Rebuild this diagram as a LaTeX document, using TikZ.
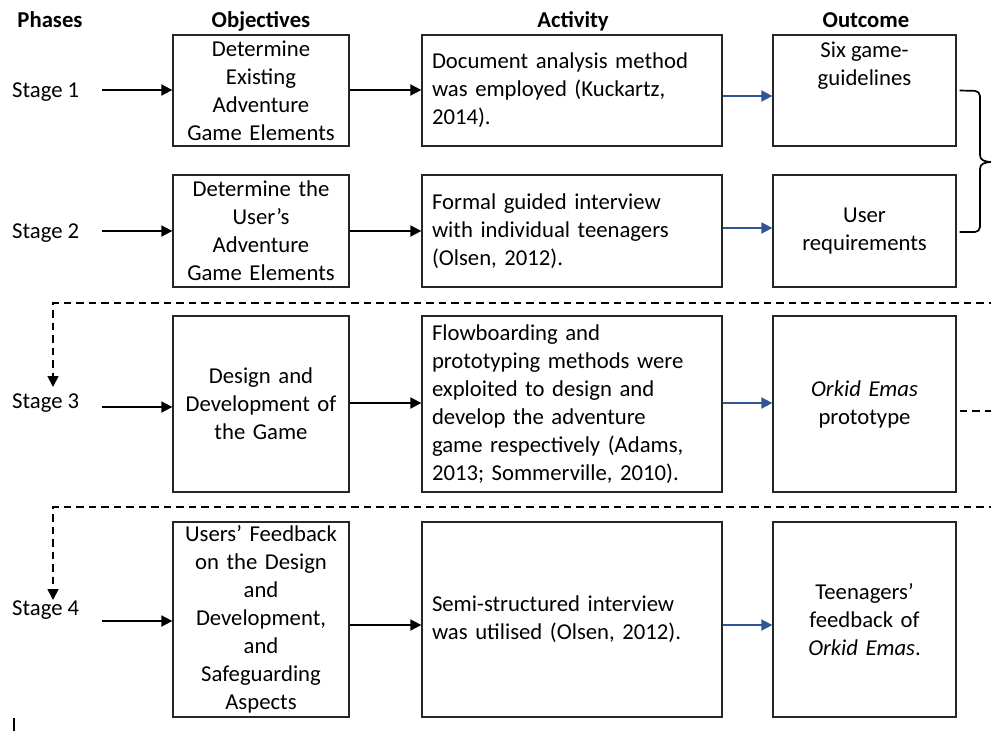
\documentclass[tikz,border=0pt]{standalone}
\usepackage{fontspec}
\setmainfont{Carlito}
\usetikzlibrary{arrows.meta,calc}
\newcommand\mysz{\fontsize{22.7}{28}\selectfont}
\definecolor{arrowblue}{HTML}{2F5597}
\begin{document}
\begin{tikzpicture}[x=1pt,y=-1pt,
  every node/.style={font=\mysz},
  hdr/.style={font=\mysz\bfseries,anchor=base,inner sep=0pt},
  stg/.style={anchor=base west,inner sep=0pt},
  box/.style={draw=black!85,line width=1.3pt,inner sep=0pt},
  objbox/.style={box,text width=174pt,minimum width=176pt,align=center},
  actbox/.style={box,text width=280pt,inner xsep=10pt,minimum width=300pt,align=left},
  outbox/.style={box,text width=179pt,minimum width=183pt,align=center},
  arr/.style={-{Triangle[length=11pt,width=11pt]},line width=1.8pt,black},
  barr/.style={-{Triangle[length=11pt,width=11pt]},line width=1.8pt,arrowblue},
  dsh/.style={line width=1.7pt,dash pattern=on 7.5pt off 5pt},
  darr/.style={dsh,-{Triangle[length=11pt,width=11pt]}}
]
\useasboundingbox[fill=white] (0,0) rectangle (991,731);

% headers
\node[hdr] (hp) at (50,27) {Phases};
\node[hdr] (ho) at (261,27) {Objectives};
\node[hdr] (ha) at (573,27) {Activity};
\node[hdr] (hu) at (866,27) {Outcome};

% stage labels
\node[stg] (s1) at (12,97) {Stage 1};
\node[stg] (s2) at (12,238) {Stage 2};
\node[stg] (s3) at (12,408) {Stage 3};
\node[stg] (s4) at (12,615) {Stage 4};

% objectives
\node[objbox,minimum height=111pt] (o1) at (261,90.5) {Determine\\Existing\\Adventure\\Game Elements};
\node[objbox,minimum height=112pt] (o2) at (261,231) {Determine the\\User’s\\Adventure\\Game Elements};
\node[objbox,minimum height=176pt] (o3) at (261,404) {Design and\\Development of\\the Game};
\node[objbox,minimum height=195pt] (o4) at (261,619.5) {Users’ Feedback\\on the Design\\and\\Development,\\and\\Safeguarding\\Aspects};

% activities
\node[actbox,minimum height=111pt] (c1) at (572,90.5) {Document analysis method\\was employed (Kuckartz,\\2014).};
\node[actbox,minimum height=112pt] (c2) at (572,231) {Formal guided interview\\with individual teenagers\\(Olsen, 2012).};
\node[actbox,minimum height=176pt] (c3) at (572,404) {Flowboarding and\\prototyping methods were\\exploited to design and\\develop the adventure\\game respectively (Adams,\\2013; Sommerville, 2010).};
\node[actbox,minimum height=195pt] (c4) at (572,619.5) {Semi-structured interview\\was utilised (Olsen, 2012).};

% outcomes
\node[box,minimum width=183pt,minimum height=111pt] (u1) at (864.5,90.5) {\parbox[c][97pt][t]{179pt}{\centering Six game-\\guidelines}};
\node[outbox,minimum height=112pt] (u2) at (864.5,231) {User\\requirements};
\node[outbox,minimum height=176pt] (u3) at (864.5,404) {\textit{Orkid Emas}\\prototype};
\node[outbox,minimum height=195pt] (u4) at (864.5,619.5) {Teenagers’\\feedback of\\\textit{Orkid Emas}.};

% stage arrows
\coordinate (a1) at (102,90);
\coordinate (a2) at (102,231);
\coordinate (a3) at (102,407);
\coordinate (a4) at (102,621);
\draw[arr] (a1) -- (a1 -| o1.west);
\draw[arr] (a2) -- (a2 -| o2.west);
\draw[arr] (a3) -- (a3 -| o3.west);
\draw[arr] (a4) -- (a4 -| o4.west);

% objective -> activity
\draw[arr] ([yshift=0.5pt]o1.east) -- ([yshift=0.5pt]c1.west);
\draw[arr] (o2.east) -- (c2.west);
\draw[arr] ([yshift=1pt]o3.east) -- ([yshift=1pt]c3.west);
\draw[arr] ([yshift=-5.5pt]o4.east) -- ([yshift=-5.5pt]c4.west);

% activity -> outcome
\draw[barr] ([yshift=-5.5pt]c1.east) -- ([yshift=-5.5pt]u1.west);
\draw[barr] ([yshift=3pt]c2.east) -- ([yshift=3pt]u2.west);
\draw[barr] ([yshift=1pt]c3.east) -- ([yshift=1pt]u3.west);
\draw[barr] ([yshift=-5.5pt]c4.east) -- ([yshift=-5.5pt]u4.west);

% brace
\draw[line width=1.7pt,rounded corners=5pt] ([xshift=3pt]u1.east) -- (980,91) -- (980,150)
  [sharp corners] -- (980,155) .. controls (980,160) and (984,162) .. (993,162)
  .. controls (984,162) and (980,164) .. (980,169)
  [rounded corners=5pt] -- (980,232) -- ([xshift=3pt,yshift=-1pt]u2.east);

% dashed feedback lines
\coordinate (d1) at (996,303);
\coordinate (e1) at (53,387);
\coordinate (d2) at (996,507);
\coordinate (e2) at (53,600);
\coordinate (d3) at (996,411);
\draw[darr] (d1) -| (e1);
\draw[darr] (d2) -| (e2);
\draw[dsh] ([xshift=3pt,yshift=-7pt]u3.east) -- (d3);

% cursor mark
\draw[line width=1.2pt] (14,718) -- (14,731);
\end{tikzpicture}
\end{document}
